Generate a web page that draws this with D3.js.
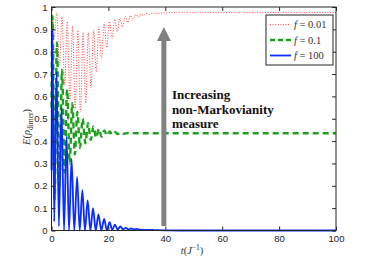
<!DOCTYPE html>
<html>
<head>
<meta charset="utf-8">
<script src="https://cdn.jsdelivr.net/npm/d3@7"></script>
<style>
  body { margin: 0; background: #fff; }
  svg { display: block; }
</style>
</head>
<body>
<div id="myplot"></div>
<script>
(function () {
  // --- Data (t, E) ---
  const xTicks = [0, 20, 40, 60, 80, 100];
  const yTicks = [0, 0.1, 0.2, 0.3, 0.4, 0.5, 0.6, 0.7, 0.8, 0.9, 1];

  // f = 0.01 (red dotted): peaks and troughs
  const seriesF001 = [
    [0, 1.0], [0.93, 0.86], [1.85, 0.975], [2.78, 0.74], [3.7, 0.955], [4.63, 0.65],
    [5.55, 0.935], [6.48, 0.58], [7.4, 0.915], [8.33, 0.54], [9.25, 0.895], [10.18, 0.53],
    [11.1, 0.885], [12.03, 0.57], [12.95, 0.885], [13.88, 0.64], [14.8, 0.895], [15.73, 0.71],
    [16.65, 0.91], [17.58, 0.77], [18.5, 0.925], [19.43, 0.82], [20.35, 0.935], [21.28, 0.86],
    [22.2, 0.945], [23.13, 0.89], [24.05, 0.952], [24.98, 0.91], [25.9, 0.958], [26.83, 0.93],
    [27.75, 0.962], [28.68, 0.945], [29.6, 0.966], [30.53, 0.955], [31.45, 0.969], [32.38, 0.962],
    [33.3, 0.971], [34.23, 0.966], [35.15, 0.972], [36.08, 0.969], [37.0, 0.973], [37.93, 0.971],
    [38.85, 0.974], [39.78, 0.973], [42, 0.975], [100, 0.975]
  ];

  // f = 0.1 (green dashed)
  const seriesF01 = [
    [0, 0.55], [0.35, 0.96], [1.1, 0.14], [1.9, 0.84], [2.8, 0.2], [3.7, 0.72], [4.6, 0.26],
    [5.5, 0.63], [6.4, 0.3], [7.3, 0.57], [8.2, 0.34], [9.1, 0.53], [10.0, 0.37], [10.95, 0.5],
    [11.9, 0.39], [12.85, 0.48], [13.8, 0.405], [14.75, 0.465], [15.7, 0.415], [16.65, 0.455],
    [17.6, 0.42], [18.55, 0.448], [19.5, 0.425], [20.45, 0.443], [21.4, 0.428], [22.35, 0.44],
    [23.3, 0.431], [24.3, 0.438], [25.3, 0.433], [27, 0.436], [30, 0.435], [100, 0.435]
  ];

  // f = 100 (blue solid)
  const seriesF100 = [
    [0, 0.27], [0.3, 0.9], [0.95, 0.04], [1.75, 0.71], [2.6, 0.02], [3.5, 0.55], [4.4, 0],
    [5.3, 0.42], [6.15, 0], [7.05, 0.32], [8.0, 0], [9.0, 0.24], [9.9, 0], [10.85, 0.18],
    [11.75, 0], [12.7, 0.135], [13.65, 0], [14.6, 0.1], [15.55, 0], [16.5, 0.072], [17.5, 0],
    [18.5, 0.052], [19.45, 0.001], [20.4, 0.037], [21.35, 0.003], [22.3, 0.026], [23.25, 0.004],
    [24.2, 0.018], [25.15, 0.005], [26.1, 0.012], [27.05, 0.005], [28, 0.009], [29, 0.005],
    [30, 0.007], [31, 0.004], [33, 0.003], [36, 0.002], [40, 0.001], [45, 0], [100, 0]
  ];

  const legendLabels = ["0.01", "0.1", "100"];

  // arrow (data coords)
  const arrowT = 39.5;
  const arrowFrom = 0.02;
  const arrowTo = 0.91;
  const annotation = ["Increasing", "non-Markovianity", "measure"];

  // --- Setup ---
  const width = 374, height = 268;
  const margin = { top: 7, right: 38, bottom: 37.5, left: 51.5 };

  const svg = d3.select("#myplot").append("svg")
    .attr("width", width).attr("height", height);

  const x = d3.scaleLinear().domain([0, 100]).range([margin.left, width - margin.right]);
  const y = d3.scaleLinear().domain([0, 1]).range([height - margin.bottom, margin.top]);

  const axisColor = "#262626";
  const tickFont = "'Liberation Sans', Arial, sans-serif";
  const serif = "'Liberation Serif', 'Times New Roman', serif";

  // --- Curves ---
  const line = d3.line().x(d => x(d[0])).y(d => y(d[1])).curve(d3.curveMonotoneX);

  const plot = svg.append("g");

  plot.append("path").datum(seriesF001)
    .attr("d", line).attr("fill", "none")
    .attr("stroke", "#ff3030").attr("stroke-width", 0.9)
    .attr("stroke-dasharray", "1,1.6");

  plot.append("path").datum(seriesF01)
    .attr("d", line).attr("fill", "none")
    .attr("stroke", "#1ea01e").attr("stroke-width", 2.4)
    .attr("stroke-dasharray", "6,4");

  plot.append("path").datum(seriesF100)
    .attr("d", line).attr("fill", "none")
    .attr("stroke", "#0a2dff").attr("stroke-width", 1.8);

  // --- Arrow ---
  const ax = x(arrowT);
  const headBase = y(arrowTo) + 14;
  svg.append("rect")
    .attr("x", ax - 2.5).attr("y", headBase - 1)
    .attr("width", 5).attr("height", y(arrowFrom) - headBase + 1)
    .attr("fill", "#808080");
  svg.append("path")
    .attr("d", `M${ax - 7},${headBase} L${ax},${y(arrowTo)} L${ax + 7},${headBase} Z`)
    .attr("fill", "#808080");

  const ann = svg.append("g")
    .attr("font-family", serif).attr("font-weight", "bold")
    .attr("font-size", 13).attr("fill", "#111");
  annotation.forEach((t, i) => {
    ann.append("text").attr("x", ax + 8).attr("y", 99 + i * 14.5).text(t);
  });

  // --- Axes (ticks inward, box) ---
  svg.append("rect")
    .attr("x", x(0)).attr("y", y(1))
    .attr("width", x(100) - x(0)).attr("height", y(0) - y(1))
    .attr("fill", "none").attr("stroke", axisColor).attr("stroke-width", 1);

  const fmt = d3.format("~g");

  const gx = svg.append("g").attr("transform", `translate(0,${y(0)})`)
    .call(d3.axisBottom(x).tickValues(xTicks).tickSizeInner(-4).tickSizeOuter(0).tickPadding(5));
  const gxt = svg.append("g").attr("transform", `translate(0,${y(1)})`)
    .call(d3.axisTop(x).tickValues(xTicks).tickSizeInner(-4).tickSizeOuter(0).tickFormat(""));
  const gy = svg.append("g").attr("transform", `translate(${x(0)},0)`)
    .call(d3.axisLeft(y).tickValues(yTicks).tickSizeInner(-4).tickSizeOuter(0).tickPadding(4).tickFormat(fmt));
  const gyr = svg.append("g").attr("transform", `translate(${x(100)},0)`)
    .call(d3.axisRight(y).tickValues(yTicks).tickSizeInner(-4).tickSizeOuter(0).tickFormat(""));

  [gx, gxt, gy, gyr].forEach(g => {
    g.select(".domain").remove();
    g.selectAll(".tick line").attr("stroke", axisColor);
    g.selectAll("text").attr("font-family", tickFont).attr("font-size", 9.5).attr("fill", "#222");
  });

  // --- Axis labels ---
  const xl = svg.append("text")
    .attr("x", 192).attr("y", 254).attr("text-anchor", "middle")
    .attr("font-family", serif).attr("font-size", 10.5).attr("fill", "#333");
  xl.append("tspan").attr("font-style", "italic").text("t");
  xl.append("tspan").text("(");
  xl.append("tspan").attr("font-style", "italic").text("J");
  xl.append("tspan").attr("font-size", 7.5).attr("dy", -4).text("−1");
  xl.append("tspan").attr("dy", 4).text(")");

  const yl = svg.append("text")
    .attr("transform", "translate(30,127) rotate(-90)").attr("text-anchor", "middle")
    .attr("font-family", serif).attr("font-size", 10.5).attr("fill", "#333");
  yl.append("tspan").attr("font-style", "italic").text("E");
  yl.append("tspan").text("(");
  yl.append("tspan").attr("font-style", "italic").text("ρ");
  yl.append("tspan").attr("font-size", 7.5).attr("dy", 2.5).text("dimer");
  yl.append("tspan").attr("dy", -2.5).text(")");

  // --- Legend ---
  const legend = svg.append("g");
  legend.append("rect")
    .attr("x", 266).attr("y", 15).attr("width", 67).attr("height", 50)
    .attr("fill", "#fff").attr("stroke", axisColor).attr("stroke-width", 1);

  const legendStyles = [
    { stroke: "#ff3030", width: 0.9, dash: "1,1.6" },
    { stroke: "#1ea01e", width: 2.4, dash: "5,3" },
    { stroke: "#0a2dff", width: 1.8, dash: null }
  ];
  legendLabels.forEach((lab, i) => {
    const ly = 24.5 + i * 15.5;
    const st = legendStyles[i];
    legend.append("line")
      .attr("x1", 270).attr("x2", 291).attr("y1", ly).attr("y2", ly)
      .attr("stroke", st.stroke).attr("stroke-width", st.width)
      .attr("stroke-dasharray", st.dash);
    const t = legend.append("text")
      .attr("x", 294).attr("y", ly + 3.5)
      .attr("font-family", serif).attr("font-size", 10.5).attr("fill", "#333");
    t.append("tspan").attr("font-style", "italic").text("f");
    t.append("tspan").text(" = " + lab);
  });
})();
</script>
</body>
</html>
